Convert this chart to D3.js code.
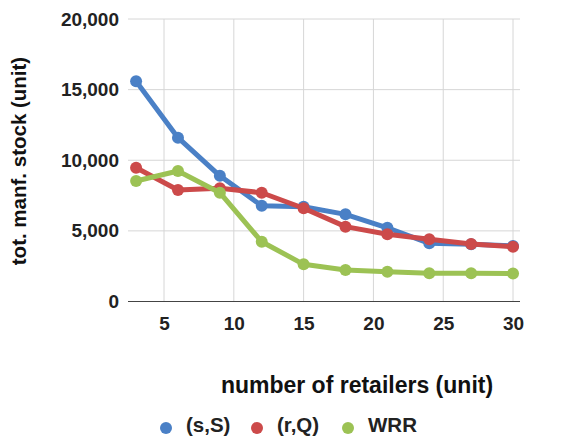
<!DOCTYPE html>
<html>
<head>
<meta charset="utf-8">
<script src="https://cdn.jsdelivr.net/npm/d3@7"></script>
<style>
  html, body { margin: 0; padding: 0; background: #fff; }
  svg { display: block; font-family: "Liberation Sans", Arial, sans-serif; }
</style>
</head>
<body>
<svg id="chart" width="574" height="439"></svg>
<script>
// Number of retailers on the x axis
const retailers = [3, 6, 9, 12, 15, 18, 21, 24, 27, 30];

// Total manufacturer stock for each policy
const sSValues  = [15600, 11600, 8900, 6780, 6710, 6170, 5220, 4120, 4050, 3930];
const rQValues  = [9470, 7890, 8010, 7700, 6600, 5300, 4760, 4400, 4070, 3880];
const wrrValues = [8530, 9240, 7700, 4230, 2630, 2230, 2110, 2000, 2000, 1990];

const seriesNames = ["(s,S)", "(r,Q)", "WRR"];
const seriesColors = ["#4a80c6", "#cc4a4a", "#9cc254"];

const xTicks = [5, 10, 15, 20, 25, 30];
const yTicks = [0, 5000, 10000, 15000, 20000];

const series = [sSValues, rQValues, wrrValues].map((vals, i) => ({
  name: seriesNames[i],
  color: seriesColors[i],
  points: retailers.map((r, j) => ({ x: r, y: vals[j] }))
}));

const svg = d3.select("#chart");

const plotLeft = 128, plotRight = 520, plotTop = 19, plotBottom = 301.5;
const x = d3.scaleLinear().domain([2.42, 30.5]).range([plotLeft, plotRight]);
const y = d3.scaleLinear().domain([0, 20000]).range([plotBottom, plotTop]);

// Gridlines
const grid = svg.append("g");
grid.selectAll("line.h").data(yTicks.filter(d => d > 0)).join("line")
  .attr("class", "h")
  .attr("x1", plotLeft).attr("x2", plotRight)
  .attr("y1", d => y(d)).attr("y2", d => y(d))
  .attr("stroke", "#d6d6d6").attr("stroke-width", 1);
grid.selectAll("line.v").data(xTicks).join("line")
  .attr("class", "v")
  .attr("x1", d => x(d)).attr("x2", d => x(d))
  .attr("y1", plotTop).attr("y2", plotBottom)
  .attr("stroke", "#d6d6d6").attr("stroke-width", 1);

// Y axis labels
const fmt = d3.format(",");
const yAxis = d3.axisLeft(y).tickValues(yTicks).tickFormat(fmt).tickSize(0).tickPadding(9);
const gy = svg.append("g").attr("transform", `translate(${plotLeft},0)`).call(yAxis);
gy.select(".domain").remove();
gy.selectAll("text")
  .attr("font-family", "Liberation Sans, Arial, sans-serif")
  .attr("font-size", 19).attr("font-weight", "bold").attr("fill", "#222");

// X axis with baseline
const xAxis = d3.axisBottom(x).tickValues(xTicks).tickSize(0).tickPadding(15);
const gx = svg.append("g").attr("transform", `translate(0,${plotBottom})`).call(xAxis);
gx.select(".domain").attr("stroke", "#444").attr("stroke-width", 1.2)
  .attr("d", `M${plotLeft},0H${plotRight}`);
gx.selectAll("text")
  .attr("font-family", "Liberation Sans, Arial, sans-serif")
  .attr("font-size", 19).attr("font-weight", "bold").attr("fill", "#222");

// Lines and markers
const line = d3.line().x(d => x(d.x)).y(d => y(d.y));
series.forEach(s => {
  const g = svg.append("g");
  g.append("path").datum(s.points)
    .attr("d", line).attr("fill", "none")
    .attr("stroke", s.color).attr("stroke-width", 5)
    .attr("stroke-linejoin", "round").attr("stroke-linecap", "round");
  g.selectAll("circle").data(s.points).join("circle")
    .attr("cx", d => x(d.x)).attr("cy", d => y(d.y)).attr("r", 6)
    .attr("fill", s.color);
});

// Axis titles
svg.append("text")
  .attr("transform", `translate(26,161) rotate(-90)`)
  .attr("text-anchor", "middle")
  .attr("font-size", 20.5).attr("font-weight", "bold").attr("fill", "#111")
  .text("tot. manf. stock (unit)");

svg.append("text")
  .attr("x", 357).attr("y", 393)
  .attr("text-anchor", "middle")
  .attr("font-size", 23).attr("font-weight", "bold").attr("fill", "#111")
  .text("number of retailers (unit)");

// Legend
const legendX = [166, 257, 348];
const legend = svg.append("g");
series.forEach((s, i) => {
  legend.append("circle").attr("cx", legendX[i]).attr("cy", 428).attr("r", 6).attr("fill", s.color);
  legend.append("text").attr("x", legendX[i] + 20).attr("y", 432)
    .attr("font-size", 20.5).attr("font-weight", "bold").attr("fill", "#222")
    .text(s.name);
});
</script>
</body>
</html>
